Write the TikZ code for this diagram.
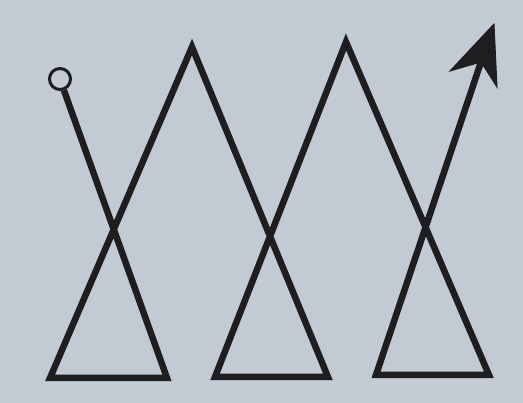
\documentclass[tikz,border=0pt]{standalone}
\definecolor{bg}{RGB}{194,203,212}
\definecolor{ink}{RGB}{30,30,32}
\begin{document}
\begin{tikzpicture}[x=1pt,y=-1pt,
  stroke/.style={draw=ink,line width=6.5pt,line join=miter,miter limit=10},
  headfill/.style={fill=ink,draw=ink,line width=1pt,line join=miter}]
\fill[bg] (0,0) rectangle (523,403);
\useasboundingbox (0,0) rectangle (523,403);
\coordinate (c) at (60,79);
\coordinate (s) at (63.9,90.2);
\coordinate (b1r) at (167,378);
\coordinate (b1l) at (50,378);
\coordinate (p1) at (192,47);
\coordinate (b2r) at (328,377);
\coordinate (b2l) at (215,377);
\coordinate (p2) at (346,42);
\coordinate (b3r) at (489,375);
\coordinate (b3l) at (376,375);
\coordinate (n) at (481,62);
\coordinate (tip) at (494,24);
\coordinate (wl) at (450,71);
\coordinate (wr) at (497,87);
\draw[ink,line width=3pt] (c) circle (10.5);
\draw[stroke] (s) -- (b1r) -- (b1l) -- (p1) -- (b2r) -- (b2l) -- (p2) -- (b3r) -- (b3l) -- (n);
\filldraw[headfill] (tip) -- (wl) -- (n) -- (wr) -- cycle;
\end{tikzpicture}
\end{document}
